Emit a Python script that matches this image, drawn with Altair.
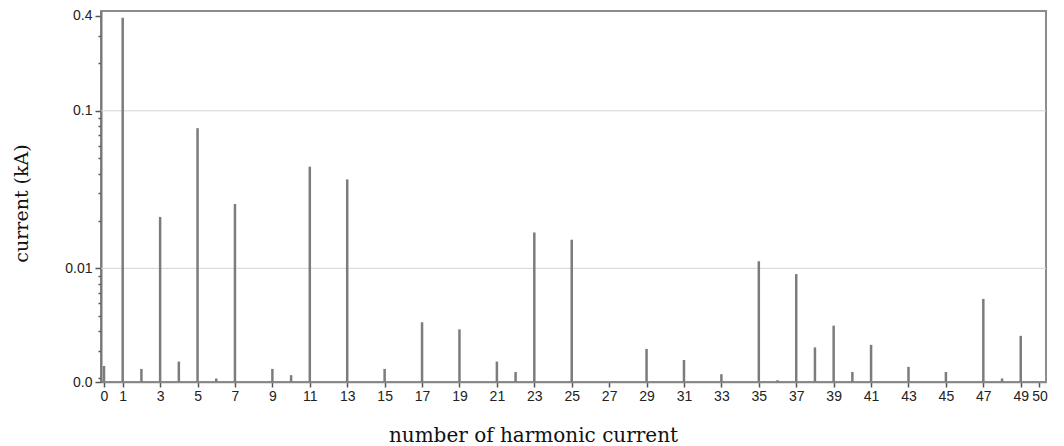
import altair as alt
import pandas as pd

# harmonic order and current (kA)
harmonics = [0, 1, 2, 3, 4, 5, 6, 7, 9, 10, 11, 13, 15, 17, 19, 21, 22, 23, 25,
             29, 31, 33, 35, 36, 37, 38, 39, 40, 41, 43, 45, 47, 48, 49]
current_ka = [0.0024, 0.389, 0.0023, 0.0212, 0.00256, 0.0776, 0.0020, 0.0256,
              0.0023, 0.0021, 0.0442, 0.0367, 0.0023, 0.00455, 0.0041, 0.00256,
              0.0022, 0.0169, 0.0152, 0.00308, 0.00262, 0.00213, 0.0111, 0.00195,
              0.0092, 0.00315, 0.00433, 0.0022, 0.00327, 0.00237, 0.0022, 0.0064,
              0.0020, 0.00373]

x_ticks = [0, 1, 3, 5, 7, 9, 11, 13, 15, 17, 19, 21, 23, 25, 27, 29, 31, 33, 35,
           37, 39, 41, 43, 45, 47, 49, 50]
y_major = [0.4, 0.1, 0.01]
y_minor = [0.3, 0.2, 0.09, 0.08, 0.07, 0.06, 0.05, 0.04, 0.03, 0.02,
           0.009, 0.008, 0.007, 0.006, 0.005, 0.004, 0.003, 0.002]
grid_values = [0.1, 0.01]

YMIN, YMAX = 0.0019, 0.43
XMIN, XMAX = -0.16, 50.35

df = pd.DataFrame({"h": harmonics, "i": current_ka})
grid_df = pd.DataFrame({"g": grid_values})

yscale = alt.Scale(type="log", domain=[YMIN, YMAX], nice=False, clamp=True)
xscale = alt.Scale(domain=[XMIN, XMAX], nice=False, zero=False)

label_font = "Liberation Sans"
title_font = "DejaVu Serif"

y_axis = alt.Axis(
    values=y_major + y_minor + [YMIN],
    labelExpr="datum.value == 0.4 ? '0.4' : datum.value == 0.1 ? '0.1' : datum.value == 0.01 ? '0.01' : datum.value < 0.00195 ? '0.0' : ''",
    title="current (kA)",
    titleFont=title_font, titleFontSize=19, titleFontWeight="normal", titleColor="#111",
    titleX=-70, titleY=192, titleAlign="center", titleBaseline="bottom", titleAngle=-90,
    labelFont=label_font, labelFontSize=14, labelColor="#222", labelPadding=3,
    tickSize={"condition": {"test": "datum.value == 0.4 || datum.value == 0.1 || datum.value == 0.01 || datum.value < 0.00195", "value": 6}, "value": 3},
    tickColor="#555", tickWidth=1.5,
    domainColor="#777", domainWidth=2,
    grid=False,
)

x_axis = alt.Axis(
    values=x_ticks,
    format="d",
    title="number of harmonic current",
    titleFont=title_font, titleFontSize=20, titleFontWeight="normal", titleColor="#111",
    titleX=432, titleY=53, titleAlign="center", titleBaseline="middle",
    labelFont=label_font, labelFontSize=14, labelColor="#222", labelPadding=2,
    labelOverlap=False, labelFlush=False,
    tickSize=5, tickColor="#555", tickWidth=1.5,
    domainColor="#888", domainWidth=1.5,
    grid=False,
)

bars = alt.Chart(df).mark_rule(color="#7c7c7c", strokeWidth=2.5).encode(
    x=alt.X("h:Q", scale=xscale, axis=x_axis),
    y=alt.Y("i:Q", scale=yscale, axis=y_axis),
    y2=alt.datum(YMIN),
)

grid = alt.Chart(grid_df).mark_rule(color="#d4d4d4", strokeWidth=1).encode(
    y=alt.Y("g:Q", scale=yscale, axis=y_axis),
)

chart = alt.layer(grid, bars).properties(
    width=945,
    height=371,
    autosize=alt.AutoSizeParams(type="none"),
    padding={"left": 101, "top": 11, "right": 18, "bottom": 64},
    background="white",
).configure_view(stroke="#8c8c8c", strokeWidth=2)

chart.save("out.html", embed_options={"renderer": "svg", "actions": False})
